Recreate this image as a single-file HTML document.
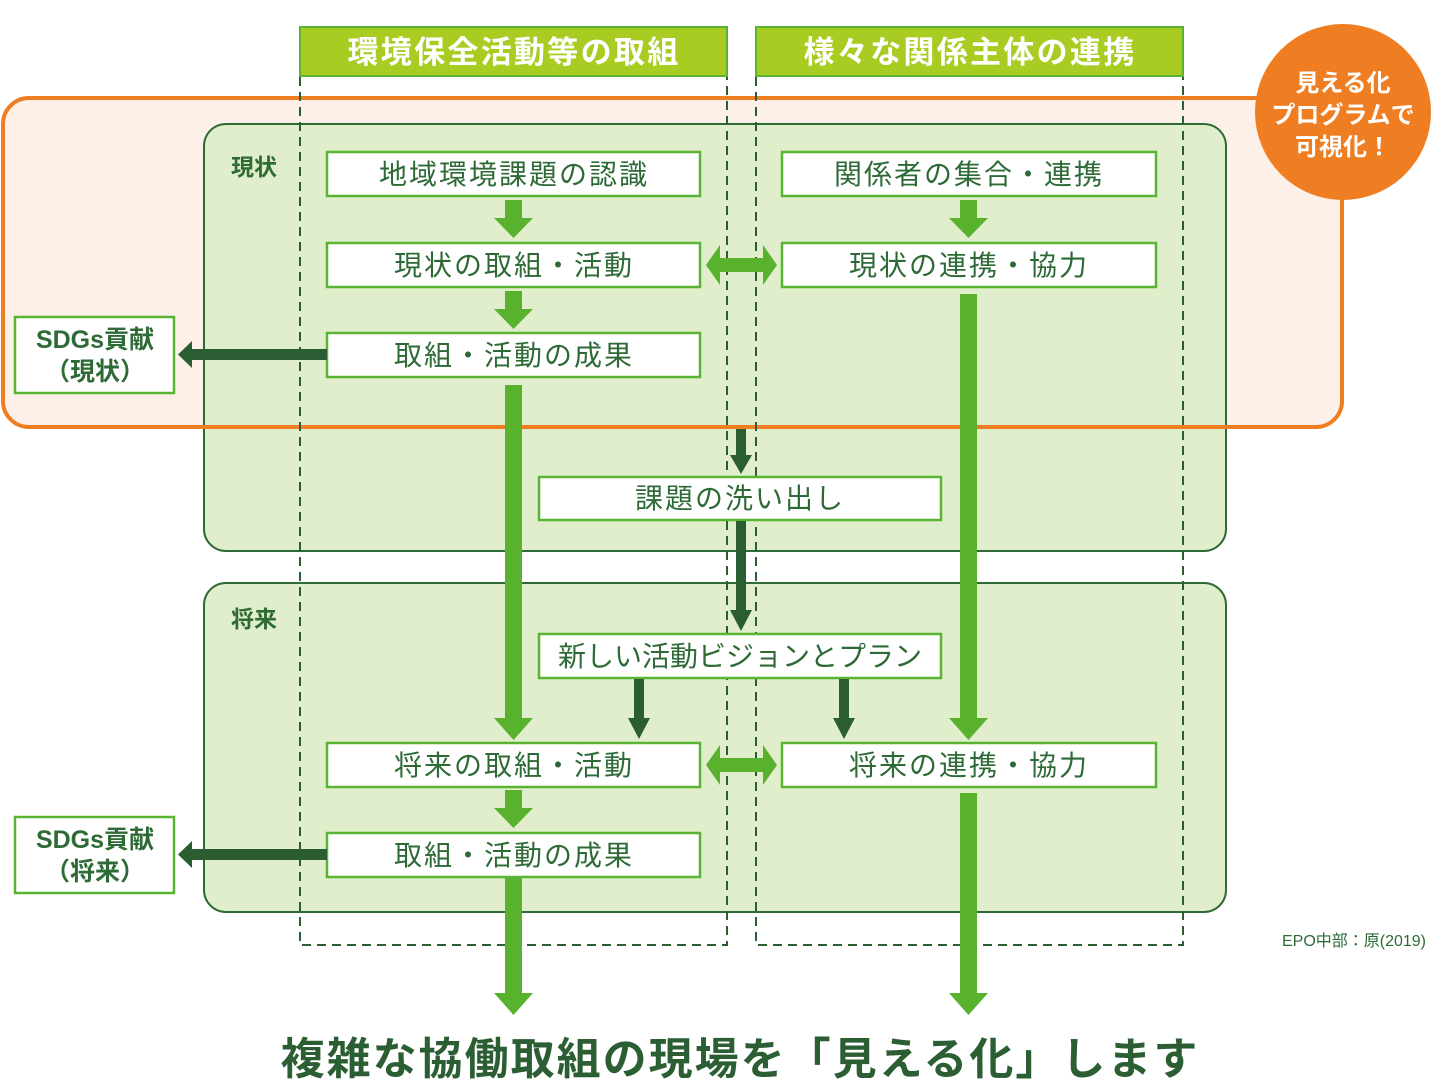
<!DOCTYPE html>
<html><head><meta charset="utf-8"><style>
html,body{margin:0;padding:0;background:#fff;}
svg{display:block;font-family:"Liberation Sans","Noto Sans CJK JP",sans-serif;}
.bx{fill:#fff;stroke:#5ab433;stroke-width:2.5}
.t{font-size:28px;fill:#2d6a36;text-anchor:middle;letter-spacing:2px}
.lg{fill:#58b22e}
.dg{fill:#2a5e32}
.dash{stroke:#2b5e33;stroke-width:2;stroke-dasharray:9,6;fill:none}
</style></head><body>
<svg width="1435" height="1090" viewBox="0 0 1435 1090" xmlns="http://www.w3.org/2000/svg">
<rect x="3" y="98" width="1339" height="329" rx="26" fill="#fdf0e8"/>
<rect x="204" y="124" width="1022" height="427" rx="22" fill="#e0eecb" stroke="#2d6a36" stroke-width="2"/>
<rect x="204" y="583" width="1022" height="329" rx="22" fill="#e0eecb" stroke="#2d6a36" stroke-width="2"/>
<rect x="3" y="98" width="1339" height="329" rx="26" fill="none" stroke="#ef7d22" stroke-width="4"/>
<rect x="300" y="27" width="427" height="49" fill="#a9cc23" stroke="#5ab433" stroke-width="2"/>
<rect x="756" y="27" width="427" height="49" fill="#a9cc23" stroke="#5ab433" stroke-width="2"/>
<text x="514" y="63" font-size="31" font-weight="bold" fill="#fff" text-anchor="middle" letter-spacing="2.3">環境保全活動等の取組</text>
<text x="970" y="63" font-size="31" font-weight="bold" fill="#fff" text-anchor="middle" letter-spacing="2.3">様々な関係主体の連携</text>
<path class="dash" d="M300 77V945H727V77M756 77V945H1183V77"/>
<circle cx="1343" cy="112" r="88" fill="#ef7d22"/>
<text fill="#fff" font-weight="bold" font-size="24" text-anchor="middle"><tspan x="1343" y="91">見える化</tspan><tspan x="1343" y="123">プログラムで</tspan><tspan x="1343" y="155">可視化！</tspan></text>
<text x="231" y="175" font-size="23" font-weight="bold" fill="#2d6a36">現状</text>
<text x="231" y="627" font-size="23" font-weight="bold" fill="#2d6a36">将来</text>
<rect class="bx" x="327" y="152" width="373" height="44"/><text class="t" x="514" y="184">地域環境課題の認識</text>
<rect class="bx" x="327" y="243" width="373" height="44"/><text class="t" x="514" y="275">現状の取組・活動</text>
<rect class="bx" x="327" y="333" width="373" height="44"/><text class="t" x="514" y="365">取組・活動の成果</text>
<rect class="bx" x="782" y="152" width="374" height="44"/><text class="t" x="969" y="184">関係者の集合・連携</text>
<rect class="bx" x="782" y="243" width="374" height="44"/><text class="t" x="969" y="275">現状の連携・協力</text>
<rect class="bx" x="539" y="477" width="402" height="43"/><text class="t" x="740" y="508">課題の洗い出し</text>
<rect class="bx" x="539" y="634" width="402" height="44"/><text class="t" x="740" y="666" style="letter-spacing:0">新しい活動ビジョンとプラン</text>
<rect class="bx" x="327" y="743" width="373" height="44"/><text class="t" x="514" y="775">将来の取組・活動</text>
<rect class="bx" x="782" y="743" width="374" height="44"/><text class="t" x="969" y="775">将来の連携・協力</text>
<rect class="bx" x="327" y="833" width="373" height="44"/><text class="t" x="514" y="865">取組・活動の成果</text>
<rect class="bx" x="15" y="317" width="159" height="76"/>
<text x="95" y="348" font-size="25" font-weight="bold" fill="#2d6a36" text-anchor="middle">SDGs貢献</text>
<text x="95" y="380" font-size="25" font-weight="bold" fill="#2d6a36" text-anchor="middle">（現状）</text>
<rect class="bx" x="15" y="817" width="159" height="76"/>
<text x="95" y="848" font-size="25" font-weight="bold" fill="#2d6a36" text-anchor="middle">SDGs貢献</text>
<text x="95" y="880" font-size="25" font-weight="bold" fill="#2d6a36" text-anchor="middle">（将来）</text>
<path class="lg" d="M505 200H522V218H533L513.5 238L494 218H505Z"/>
<path class="lg" d="M505 291H522V309H533L513.5 329L494 309H505Z"/>
<path class="lg" d="M960 200H977V218H988L968.5 238L949 218H960Z"/>
<path class="lg" d="M505 385H522V718H533L513.5 740L494 718H505Z"/>
<path class="lg" d="M960 294H977V718H988L968.5 740L949 718H960Z"/>
<path class="lg" d="M505 790H522V808H533L513.5 828L494 808H505Z"/>
<path class="lg" d="M505 878H522V993H533L513.5 1015L494 993H505Z"/>
<path class="lg" d="M960 793H977V993H988L968.5 1015L949 993H960Z"/>
<path class="lg" d="M706 265L720 245V258H763V245L777 265L763 285V272H720V285Z"/>
<path class="lg" d="M706 765L720 745V758H763V745L777 765L763 785V772H720V785Z"/>
<path class="dg" d="M736 429H746V455H752L741 474L730 455H736Z"/>
<path class="dg" d="M736 521H746V610H752L741 631L730 610H736Z"/>
<path class="dg" d="M634 679H644V718H650L639 739L628 718H634Z"/>
<path class="dg" d="M839 679H849V718H855L844 739L833 718H839Z"/>
<path class="dg" d="M327 349V360H192V368L178 354.5L192 341V349Z"/>
<path class="dg" d="M327 849V860H192V868L178 854.5L192 841V849Z"/>
<text x="1354" y="946" font-size="16" fill="#2d6a36" text-anchor="middle">EPO中部：原(2019)</text>
<text x="740" y="1074" font-size="44" font-weight="bold" fill="#2b5e33" text-anchor="middle" letter-spacing="2">複雑な協働取組の現場を「見える化」します</text>
</svg>
</body></html>
